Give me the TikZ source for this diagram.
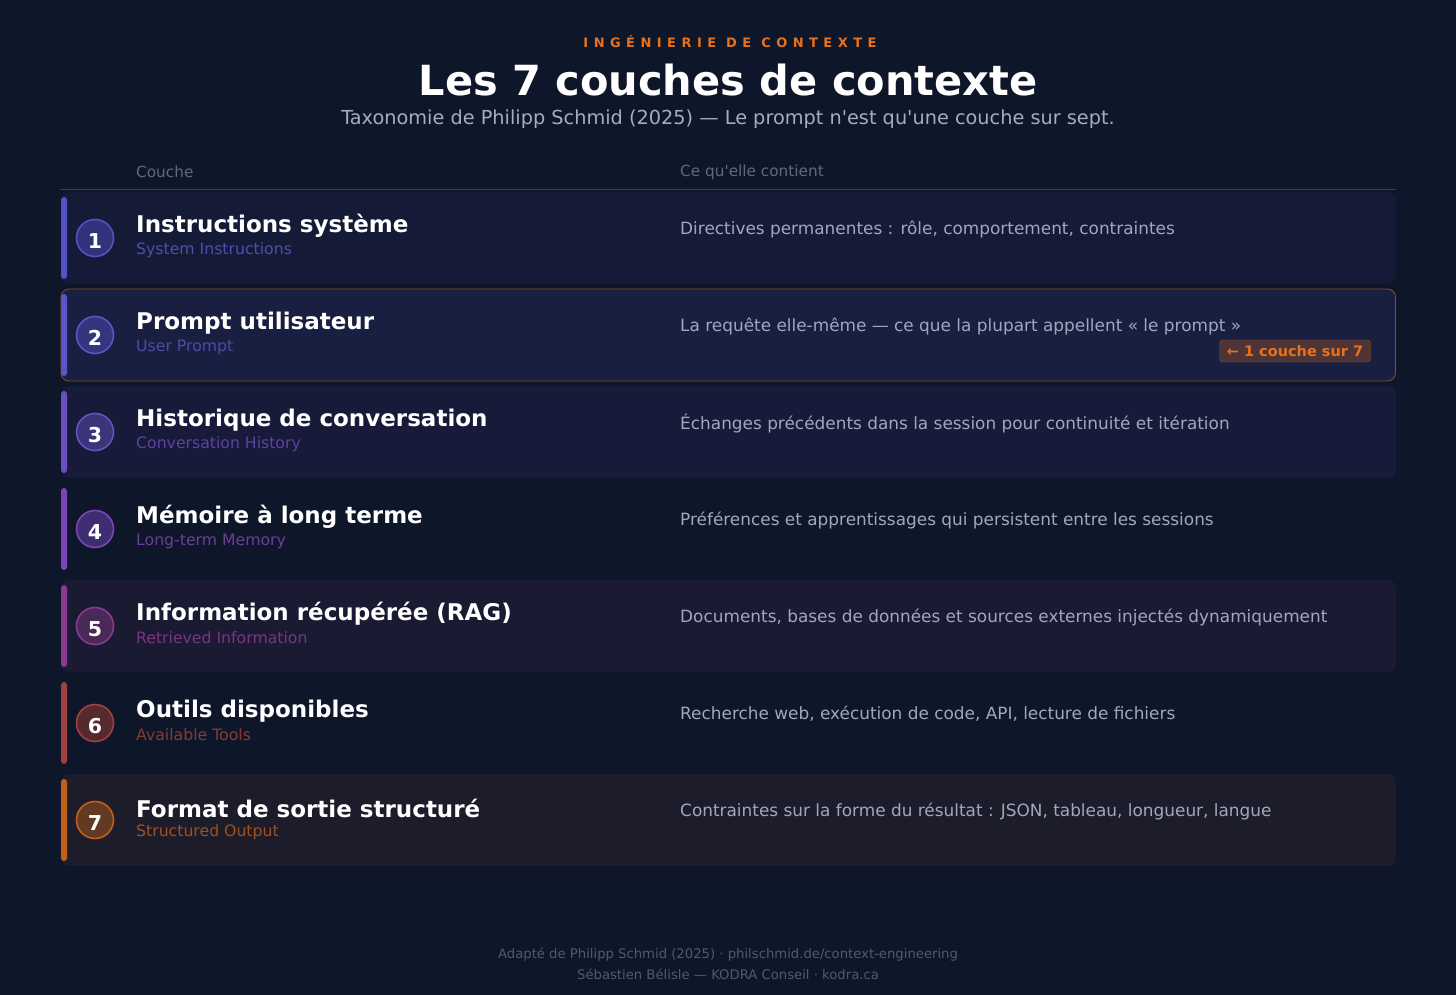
\documentclass[tikz,border=0pt]{standalone}
\usepackage{fontspec}
\setmainfont{DejaVu Sans}[Ligatures=TeXOff]
\newfontfamily\djv{DejaVu Sans}[Ligatures=TeXOff]
\definecolor{pagebg}{HTML}{0E1629}
\definecolor{eyebrow}{HTML}{E8711C}
\definecolor{subt}{HTML}{A3ADC2}
\definecolor{headc}{HTML}{5F6A80}
\definecolor{desc}{HTML}{A0A8BC}
\definecolor{foot}{HTML}{4F5A70}
\definecolor{rbgA}{HTML}{151B36}
\definecolor{rbgB}{HTML}{191F40}
\definecolor{rbgC}{HTML}{171A38}
\definecolor{rbgE}{HTML}{1A1A33}
\definecolor{rbgG}{HTML}{1D1C2A}
\definecolor{cA}{HTML}{5252C4}\definecolor{fA}{HTML}{30337A}\definecolor{sA}{HTML}{4A4FB0}
\definecolor{cB}{HTML}{5A55C8}\definecolor{fB}{HTML}{33357E}\definecolor{sB}{HTML}{4A4AA8}
\definecolor{cC}{HTML}{6A4FC0}\definecolor{fC}{HTML}{3A3478}\definecolor{sC}{HTML}{5A44A0}
\definecolor{cD}{HTML}{7A45B8}\definecolor{fD}{HTML}{3E2D70}\definecolor{sD}{HTML}{6A3F98}
\definecolor{cE}{HTML}{8A3A90}\definecolor{fE}{HTML}{4A2858}\definecolor{sE}{HTML}{7A3580}
\definecolor{cF}{HTML}{A04040}\definecolor{fF}{HTML}{55292E}\definecolor{sF}{HTML}{8A3A36}
\definecolor{cG}{HTML}{C0601A}\definecolor{fG}{HTML}{623A24}\definecolor{sG}{HTML}{A0501F}
\tikzset{
 rowtitle/.style={anchor=west,text=white,font=\fontsize{23}{27}\selectfont\bfseries,inner sep=0},
 rowsub/.style={anchor=west,font=\fontsize{15.7}{19}\selectfont,inner sep=0},
 rowdesc/.style={anchor=west,text=desc,font=\fontsize{16.9}{20}\selectfont,inner sep=0},
 numc/.style={circle,minimum size=37pt,inner sep=0,line width=1.6pt},
 numt/.style={text=white,font=\fontsize{20.5}{24}\selectfont\bfseries,inner sep=0},
}
\begin{document}
\begin{tikzpicture}[x=1pt,y=-1pt]
\fill[pagebg] (0,0) rectangle (1456,995);
\useasboundingbox (0,0) rectangle (1456,995);
\node[text=eyebrow,font=\fontsize{13}{15}\selectfont\bfseries\addfontfeatures{LetterSpace=42}] (eb) at (730,42) {INGÉNIERIE DE CONTEXTE};
\node[text=white,font=\fontsize{41.5}{48}\selectfont\bfseries] (title) at (728,80) {Les 7 couches de contexte};
\node[text=subt,font=\fontsize{19.3}{23}\selectfont] (sub) at (728,119) {Taxonomie de Philipp Schmid (2025) — Le prompt n'est qu'une couche sur sept.};
\node[text=headc,font=\fontsize{15.3}{18}\selectfont,anchor=west,inner sep=0] (h1) at (136,172) {Couche};
\node[text=headc,font=\fontsize{15.3}{18}\selectfont,anchor=west,inner sep=0] (h2) at (680,172) {Ce qu'elle contient};
\draw[color=headc!50!pagebg,line width=0.8pt] (60,189.5) -- (1396,189.5);
\foreach \i/\bg/\cc/\ff/\ss/\t/\s/\d in {
 1/rbgA/cA/fA/sA/{Instructions système}/{System Instructions}/{Directives permanentes : rôle, comportement, contraintes},
 2/rbgB/cB/fB/sB/{Prompt utilisateur}/{User Prompt}/{La requête elle-même — ce que la plupart appellent « le prompt »},
 3/rbgC/cC/fC/sC/{Historique de conversation}/{Conversation History}/{Échanges précédents dans la session pour continuité et itération},
 4/pagebg/cD/fD/sD/{Mémoire à long terme}/{Long-term Memory}/{Préférences et apprentissages qui persistent entre les sessions},
 5/rbgE/cE/fE/sE/{Information récupérée (RAG)}/{Retrieved Information}/{Documents, bases de données et sources externes injectés dynamiquement},
 6/pagebg/cF/fF/sF/{Outils disponibles}/{Available Tools}/{Recherche web, exécution de code, API, lecture de fichiers},
 7/rbgG/cG/fG/sG/{Format de sortie structuré}/{Structured Output}/{Contraintes sur la forme du résultat : JSON, tableau, longueur, langue}}
{
 \pgfmathsetmacro{\yy}{192+(\i-1)*97}
 \fill[\bg,rounded corners=8pt] (61,\yy) rectangle (1396,\yy+92);
 \fill[\cc,rounded corners=3pt] (61,\yy+5) rectangle (67,\yy+87);
 \node[numc,draw=\cc,fill=\ff] (n\i) at (95,\yy+46) {};
 \node[numt] (m\i) at (95,\yy+49) {\i};
 \node[rowtitle] (t\i) at (136,\yy+34) {\t};
 \node[rowsub,text=\ss] (s\i) at (136,\yy+58) {\s};
 \node[rowdesc] (d\i) at (680,\yy+37) {\d};
}
\draw[color=eyebrow!55!rbgB,line width=0.8pt,rounded corners=8pt] (61,289) rectangle (1395.5,381);
\node[draw=eyebrow!65!black,fill=eyebrow!25!rbgB,rounded corners=3pt,text=eyebrow,font=\fontsize{14.5}{16}\selectfont\bfseries,minimum width=151pt,minimum height=22pt,inner sep=0] (badge) at (1295,351) {\djv\bfseries ← 1 couche sur 7};
\node[text=foot,font=\fontsize{13.2}{15}\selectfont] (f1) at (728,955) {Adapté de Philipp Schmid (2025) · philschmid.de/context-engineering};
\node[text=foot,font=\fontsize{13.2}{15}\selectfont] (f2) at (728,974) {Sébastien Bélisle — KODRA Conseil · kodra.ca};
\end{tikzpicture}
\end{document}
